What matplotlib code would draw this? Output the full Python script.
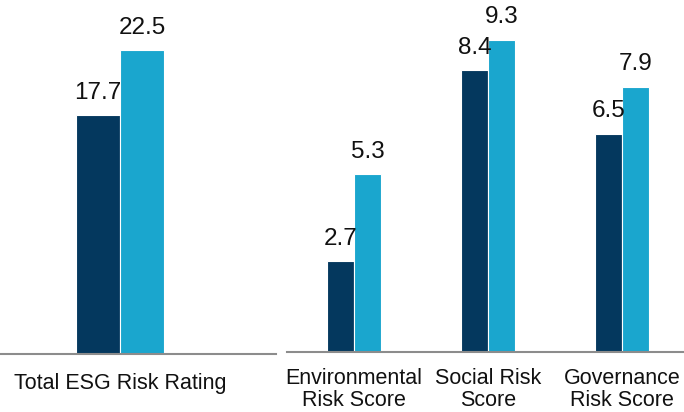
import matplotlib
matplotlib.use("Agg")
import matplotlib.pyplot as plt
import numpy as np

plt.rcParams['font.family'] = ['Liberation Sans', 'DejaVu Sans']

# Data
total_category = ["Total ESG Risk Rating"]
total_series_a = [17.7]
total_series_b = [22.5]

sub_categories = ["Environmental\nRisk Score", "Social Risk\nScore", "Governance\nRisk Score"]
sub_series_a = [2.7, 8.4, 6.5]
sub_series_b = [5.3, 9.3, 7.9]

dark = "#04385E"
light = "#1AA6CE"
axis_gray = "#8C8C8C"
W, H = 684, 412
fig = plt.figure(figsize=(W / 100, H / 100), dpi=100)

ax1 = fig.add_axes([0, 1 - 354 / H, 276 / W, 354 / H])
ax2 = fig.add_axes([287 / W, 1 - 352 / H, 397 / W, 352 / H])

bw = 0.2


def draw(ax, cats, a, b, ylim, xlim, pad, ls):
    x = np.arange(len(cats))
    ba = ax.bar(x - bw / 2, a, bw, color=dark, edgecolor="white", linewidth=0.8)
    bb = ax.bar(x + bw / 2, b, bw, color=light, edgecolor="white", linewidth=0.8)
    for bars in (ba, bb):
        for r in bars:
            ax.annotate(f"{r.get_height():.1f}",
                        (r.get_x() + r.get_width() / 2, r.get_height()),
                        xytext=(0, 8), textcoords="offset points",
                        ha="center", va="bottom", fontsize=17.5, color="#111111")
    ax.set_ylim(*ylim)
    ax.set_xlim(*xlim)
    ax.set_xticks(x)
    ax.set_xticklabels(cats, fontsize=15.5, color="#111111", linespacing=ls)
    ax.tick_params(axis="x", length=0, pad=pad)
    ax.set_yticks([])
    for s in ("top", "right", "left"):
        ax.spines[s].set_visible(False)
    ax.spines["bottom"].set_color(axis_gray)
    ax.spines["bottom"].set_linewidth(1.5)


draw(ax1, total_category, total_series_a, total_series_b, (0, 354 / 13.5), (-120 / 220, 156 / 220), 13.5, 1.1)
draw(ax2, sub_categories, sub_series_a, sub_series_b, (0, 352 / 33.6), (-0.5, 2.46), 11.5, 1.06)

fig.savefig("out.png", dpi=100)
